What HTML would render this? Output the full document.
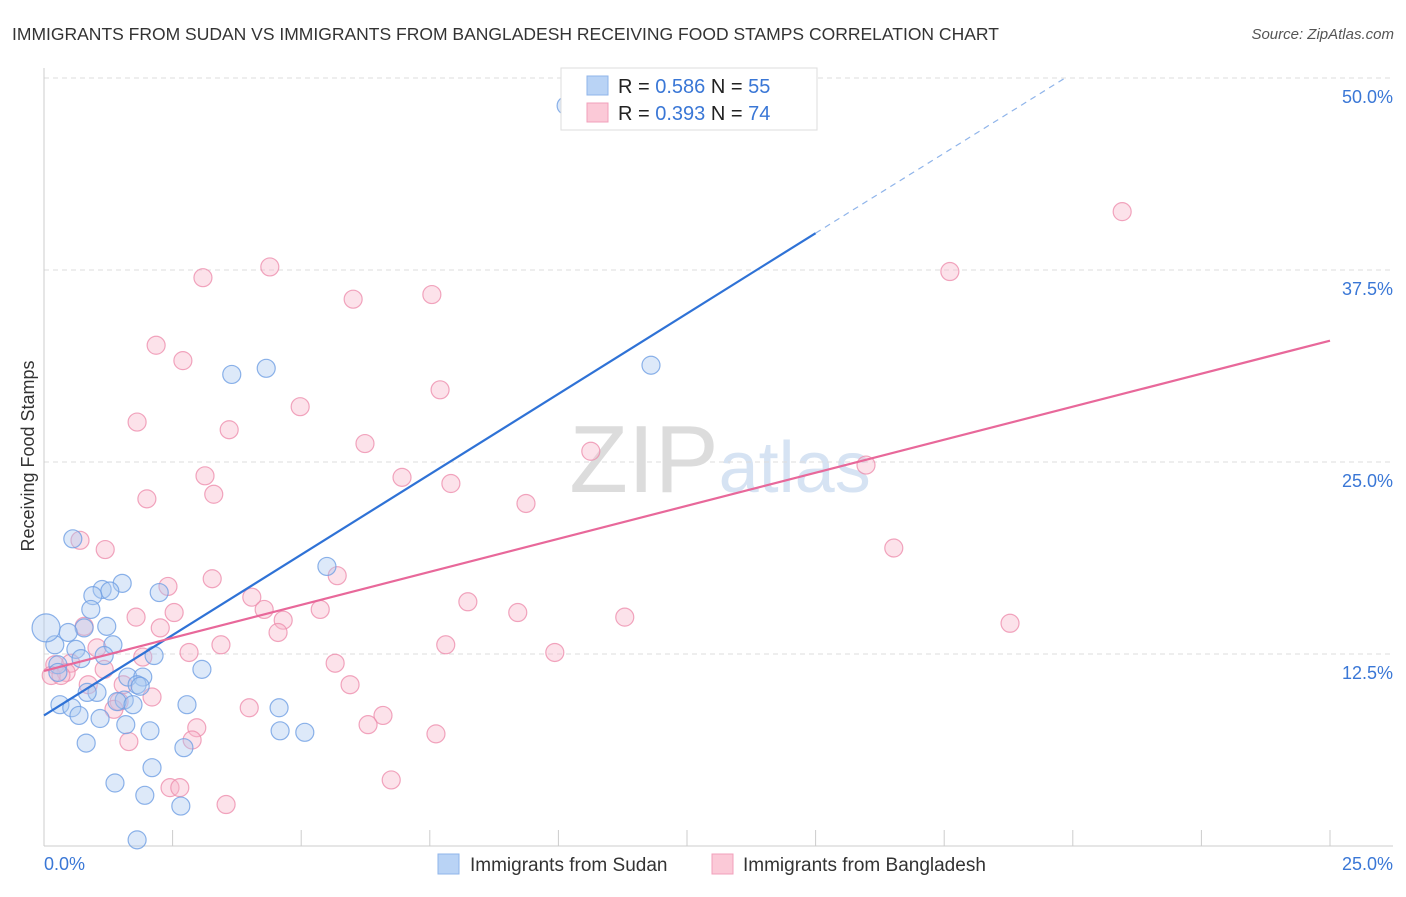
<!DOCTYPE html>
<html><head><meta charset="utf-8"><style>
body{margin:0;background:#fff;font-family:"Liberation Sans",sans-serif;}
svg text{font-family:"Liberation Sans",sans-serif;}
</style></head><body>
<svg id="chart" width="1406" height="892">
<text x="12" y="40" font-size="17.5" fill="#333">IMMIGRANTS FROM SUDAN VS IMMIGRANTS FROM BANGLADESH RECEIVING FOOD STAMPS CORRELATION CHART</text>
<text x="1394" y="39" font-size="15" fill="#555" font-style="italic" text-anchor="end">Source: ZipAtlas.com</text>
<text x="720" y="492" font-size="96" fill="#e4e4e4" text-anchor="middle" font-family="Liberation Serif"><tspan fill="#dcdcdc">ZIP</tspan><tspan fill="#d6e3f3" font-family="Liberation Sans" font-size="72">atlas</tspan></text>
<g id="grid"></g><g id="axes"></g><g id="marks"></g><g id="trends"></g>
<text transform="translate(34,456) rotate(-90)" font-size="18" fill="#333" text-anchor="middle">Receiving Food Stamps</text>
<g>
<rect x="561" y="68" width="256" height="62" fill="#fff" stroke="#ddd"/>
<rect x="587" y="76" width="21" height="19" fill="#b9d3f5" stroke="#8fb4ea"/>
<rect x="587" y="103" width="21" height="19" fill="#fbc9d7" stroke="#f2a0bb"/>
<text x="618" y="93" font-size="20" fill="#222">R = <tspan fill="#3a77d6">0.586</tspan>   N = <tspan fill="#3a77d6">55</tspan></text>
<text x="618" y="120" font-size="20" fill="#222">R = <tspan fill="#3a77d6">0.393</tspan>   N = <tspan fill="#3a77d6">74</tspan></text>
</g>
<g>
<rect x="438" y="854" width="21" height="20" fill="#b9d3f5" stroke="#8fb4ea"/>
<text x="470" y="871" font-size="19" fill="#333">Immigrants from Sudan</text>
<rect x="712" y="854" width="21" height="20" fill="#fbc9d7" stroke="#f2a0bb"/>
<text x="743" y="871" font-size="19" fill="#333">Immigrants from Bangladesh</text>
</g>
</svg>
<script>
const sudanX=[10.15,4.32,3.65,11.8,5.5,0.56,1.52,1.13,1.28,0.95,2.24,0.91,0.78,0.47,1.22,0.21,1.34,0.62,0.72,1.17,2.14,3.07,1.63,1.92,1.81,1.87,1.03,0.84,1.56,1.42,2.78,0.31,0.54,1.73,4.57,1.09,0.68,1.59,2.06,4.59,5.07,0.82,2.72,2.1,1.38,1.96,2.66,1.81,0.04,0.27,0.27];
const sudanY=[48.2,31.1,30.7,31.3,18.2,20.0,17.1,16.7,16.6,16.3,16.5,15.4,14.2,13.9,14.3,13.1,13.1,12.8,12.2,12.4,12.4,11.5,11.0,11.0,10.5,10.4,10.0,10.0,9.5,9.4,9.2,9.2,9.0,9.2,9.0,8.3,8.5,7.9,7.5,7.5,7.4,6.7,6.4,5.1,4.1,3.3,2.6,0.4,14.2,11.8,11.3];
const bangX=[20.96,17.61,4.39,3.09,6.01,7.54,2.18,2.7,7.7,4.98,1.81,3.6,6.24,10.63,15.98,3.13,6.96,7.91,3.3,2.0,9.37,0.7,1.19,16.52,2.41,5.7,3.27,4.04,8.24,2.53,4.28,5.37,9.21,1.79,4.65,11.29,18.78,0.78,2.26,4.55,3.44,7.81,1.03,2.82,9.93,1.92,5.66,0.21,0.52,1.17,0.43,0.14,0.33,0.86,1.54,5.95,2.1,1.46,1.36,3.99,6.59,6.3,2.97,2.88,1.65,7.62,6.75,2.45,2.64,3.54];
const bangY=[41.3,37.4,37.7,37.0,35.6,35.9,32.6,31.6,29.7,28.6,27.6,27.1,26.2,25.7,24.8,24.1,24.0,23.6,22.9,22.6,22.3,19.9,19.3,19.4,16.9,17.6,17.4,16.2,15.9,15.2,15.4,15.4,15.2,14.9,14.7,14.9,14.5,14.3,14.2,13.9,13.1,13.1,12.9,12.6,12.6,12.3,11.9,11.8,11.9,11.5,11.3,11.1,11.1,10.5,10.5,10.5,9.7,9.4,8.9,9.0,8.5,7.9,7.7,6.9,6.8,7.3,4.3,3.8,3.8,2.7];
const yTicks=[12.5,25.0,37.5,50.0];
const xTickVals=[0,2.5,5,7.5,10,12.5,15,17.5,20,22.5,25];
const sudanTrend=[0,8.5,15,39.9];   // x0,y0,x1,y1 (solid part)
const sudanDashEnd=[19.85,50];
const bangTrend=[0,11.4,25,32.9];
const NS='http://www.w3.org/2000/svg';
const X=v=>44+v*(1286/25);
const Y=v=>846-v*(192/12.5);
function mk(tag,attrs,parent){const e=document.createElementNS(NS,tag);for(const k in attrs)e.setAttribute(k,attrs[k]);parent.appendChild(e);return e;}
const grid=document.getElementById('grid'),axes=document.getElementById('axes'),marks=document.getElementById('marks'),trends=document.getElementById('trends');
yTicks.forEach(t=>{
 const l=mk('line',{x1:44,x2:1393,y1:Y(t),y2:Y(t),stroke:'#ddd','stroke-dasharray':'5,4'},grid);
 
 
 const tx=mk('text',{x:1393,y:Y(t)+25,'font-size':18,fill:'#3a77d6','text-anchor':'end'},axes);
 tx.textContent=t.toFixed(1)+'%';
 
 
});
const xa=mk('line',{x1:44,x2:1393,y1:846,y2:846,stroke:'#ccc'},axes);


const ya=mk('line',{x1:44,x2:44,y1:68,y2:846,stroke:'#ccc'},axes);


xTickVals.forEach(t=>{
 const l=mk('line',{x1:X(t),x2:X(t),y1:830,y2:846,stroke:'#ccc'},axes);
 
 
});
[[0,'start',44],[25,'end',1393]].forEach(([v,a,px])=>{
 const tx=mk('text',{x:px,y:870,'font-size':18,fill:'#3a77d6','text-anchor':a},axes);
 tx.textContent=v.toFixed(1)+'%';
 
 
});
function pts(xs,ys,fill,stroke,name){xs.forEach((x,i)=>{
 const r=(x<0.1)?14:9;
 const c=mk('circle',{cx:X(x),cy:Y(ys[i]),r:r,fill:fill,'fill-opacity':0.4,stroke:stroke,'stroke-width':1.2,'stroke-opacity':0.8},marks);
 
 
});}
pts(bangX,bangY,'#f7b6ca','#ee8fae','bangladesh-point');
pts(sudanX,sudanY,'#a9c8f0','#6f9fe3','sudan-point');
const s1=mk('line',{x1:X(sudanTrend[0]),y1:Y(sudanTrend[1]),x2:X(sudanTrend[2]),y2:Y(sudanTrend[3]),stroke:'#2f72d6','stroke-width':2.2},trends);


const s2=mk('line',{x1:X(sudanTrend[2]),y1:Y(sudanTrend[3]),x2:X(sudanDashEnd[0]),y2:Y(sudanDashEnd[1]),stroke:'#8fb4ea','stroke-width':1.2,'stroke-dasharray':'6,5'},trends);


const b1=mk('line',{x1:X(bangTrend[0]),y1:Y(bangTrend[1]),x2:X(bangTrend[2]),y2:Y(bangTrend[3]),stroke:'#e8689a','stroke-width':2.2},trends);


</script>
</body></html>
